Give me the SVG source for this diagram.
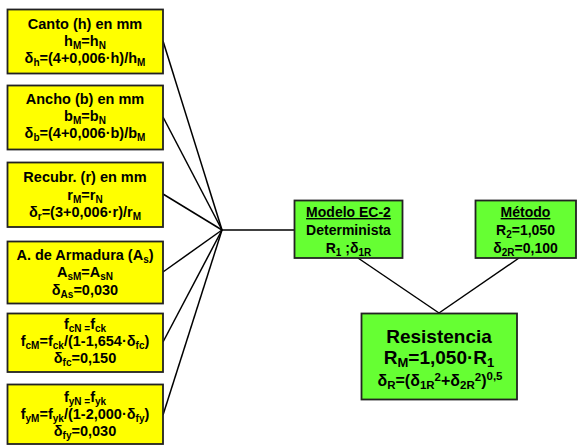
<svg xmlns="http://www.w3.org/2000/svg" width="578" height="446" viewBox="0 0 578 446">
<style>
.y{fill:#FFFF00;stroke:#222;stroke-width:1.8}
.g{fill:#66FF33;stroke:#222;stroke-width:1.8}
text{font-family:"Liberation Sans",Arial,sans-serif;font-weight:bold;fill:#000;text-anchor:middle}
.t{font-size:14.5px}
.m{font-size:14px}
.s{font-size:10px}
.s2{font-size:11.5px}
.big{font-size:19px}
.mid{font-size:16px}
.c line{stroke:#000;stroke-width:1.5}
</style>
<rect width="578" height="446" fill="#fff"/>
<g class="c" id="connectors">
<line x1="163" y1="41" x2="222" y2="230"/>
<line x1="163" y1="117" x2="222" y2="230"/>
<line x1="163" y1="194" x2="222" y2="230"/>
<line x1="163" y1="272" x2="222" y2="230"/>
<line x1="163" y1="342" x2="222" y2="230"/>
<line x1="163" y1="415" x2="222" y2="230"/>
<line x1="222" y1="230" x2="294" y2="230"/>
<line x1="358" y1="258" x2="439" y2="313"/>
<line x1="519" y1="258" x2="439" y2="313"/>
</g>
<g id="canto">
<rect class="y" x="7.5" y="9.5" width="155.5" height="64"/>
<text class="t" x="85" y="29">Canto (h) en mm</text>
<text class="t" x="85" y="46">h<tspan class="s" dy="3">M</tspan><tspan dy="-3">=h</tspan><tspan class="s" dy="3">N</tspan></text>
<text class="t" x="85" y="63">δ<tspan class="s" dy="3">h</tspan><tspan dy="-3">=(4+0,006·h)/h</tspan><tspan class="s" dy="3">M</tspan></text>
</g>
<g id="ancho">
<rect class="y" x="7.5" y="85.5" width="155.5" height="64"/>
<text class="t" x="85" y="104">Ancho (b) en mm</text>
<text class="t" x="85" y="121">b<tspan class="s" dy="3">M</tspan><tspan dy="-3">=b</tspan><tspan class="s" dy="3">N</tspan></text>
<text class="t" x="85" y="138">δ<tspan class="s" dy="3">b</tspan><tspan dy="-3">=(4+0,006·b)/b</tspan><tspan class="s" dy="3">M</tspan></text>
</g>
<g id="recubr">
<rect class="y" x="7.5" y="162.5" width="155.5" height="64.5"/>
<text class="t" x="85" y="182">Recubr. (r) en mm</text>
<text class="t" x="85" y="200">r<tspan class="s" dy="3">M</tspan><tspan dy="-3">=r</tspan><tspan class="s" dy="3">N</tspan></text>
<text class="t" x="85" y="217">δ<tspan class="s" dy="3">r</tspan><tspan dy="-3">=(3+0,006·r)/r</tspan><tspan class="s" dy="3">M</tspan></text>
</g>
<g id="armadura">
<rect class="y" x="7.5" y="241.5" width="155.5" height="62"/>
<text class="t" x="85" y="260">A. de Armadura (A<tspan class="s" dy="3">s</tspan><tspan dy="-3">)</tspan></text>
<text class="t" x="85" y="277">A<tspan class="s" dy="3">sM</tspan><tspan dy="-3">=A</tspan><tspan class="s" dy="3">sN</tspan></text>
<text class="t" x="85" y="295">δ<tspan class="s" dy="3">As</tspan><tspan dy="-3">=0,030</tspan></text>
</g>
<g id="hormigon">
<rect class="y" x="7.5" y="313.5" width="155.5" height="58.5"/>
<text class="t" x="85" y="329">f<tspan class="s" dy="3">cN =</tspan><tspan dy="-3">f</tspan><tspan class="s" dy="3">ck</tspan></text>
<text class="t" x="85" y="346">f<tspan class="s" dy="3">cM</tspan><tspan dy="-3">=f</tspan><tspan class="s" dy="3">ck</tspan><tspan dy="-3">/(1-1,654·δ</tspan><tspan class="s" dy="3">fc</tspan><tspan dy="-3">)</tspan></text>
<text class="t" x="85" y="363">δ<tspan class="s" dy="3">fc</tspan><tspan dy="-3">=0,150</tspan></text>
</g>
<g id="acero">
<rect class="y" x="7.5" y="384.5" width="155.5" height="59.5"/>
<text class="t" x="85" y="402">f<tspan class="s" dy="3">yN =</tspan><tspan dy="-3">f</tspan><tspan class="s" dy="3">yk</tspan></text>
<text class="t" x="85" y="419">f<tspan class="s" dy="3">yM</tspan><tspan dy="-3">=f</tspan><tspan class="s" dy="3">yk</tspan><tspan dy="-3">/(1-2,000·δ</tspan><tspan class="s" dy="3">fy</tspan><tspan dy="-3">)</tspan></text>
<text class="t" x="85" y="436">δ<tspan class="s" dy="3">fy</tspan><tspan dy="-3">=0,030</tspan></text>
</g>
<g id="modelo">
<rect class="g" x="294.5" y="200.5" width="108" height="57.5"/>
<text class="m" x="348.5" y="217" text-decoration="underline">Modelo EC-2</text>
<text class="m" x="348.5" y="235">Determinista</text>
<text class="m" x="348.5" y="253">R<tspan class="s" dy="3">1</tspan><tspan dy="-3"> ;δ</tspan><tspan class="s" dy="3">1R</tspan></text>
</g>
<g id="metodo">
<rect class="g" x="475.5" y="200.5" width="100.5" height="57.5"/>
<text class="m" x="525.5" y="217" text-decoration="underline">Método</text>
<text class="m" x="525.5" y="235">R<tspan class="s" dy="3">2</tspan><tspan dy="-3">=1,050</tspan></text>
<text class="m" x="525.5" y="253">δ<tspan class="s" dy="3">2R</tspan><tspan dy="-3">=0,100</tspan></text>
</g>
<g id="resistencia">
<rect class="g" x="361.5" y="313.5" width="155.5" height="86"/>
<text class="big" x="439" y="343">Resistencia</text>
<text class="big" x="439" y="364">R<tspan style="font-size:13px" dy="3">M</tspan><tspan dy="-3">=1,050·R</tspan><tspan style="font-size:13px" dy="3">1</tspan></text>
<text class="mid" x="440" y="386">δ<tspan class="s2" dy="3">R</tspan><tspan dy="-3">=(δ</tspan><tspan class="s2" dy="3">1R</tspan><tspan class="s2" dy="-8">2</tspan><tspan dy="5">+δ</tspan><tspan class="s2" dy="3">2R</tspan><tspan class="s2" dy="-8">2</tspan><tspan dy="5">)</tspan><tspan class="s2" dy="-6">0,5</tspan></text>
</g>
</svg>
